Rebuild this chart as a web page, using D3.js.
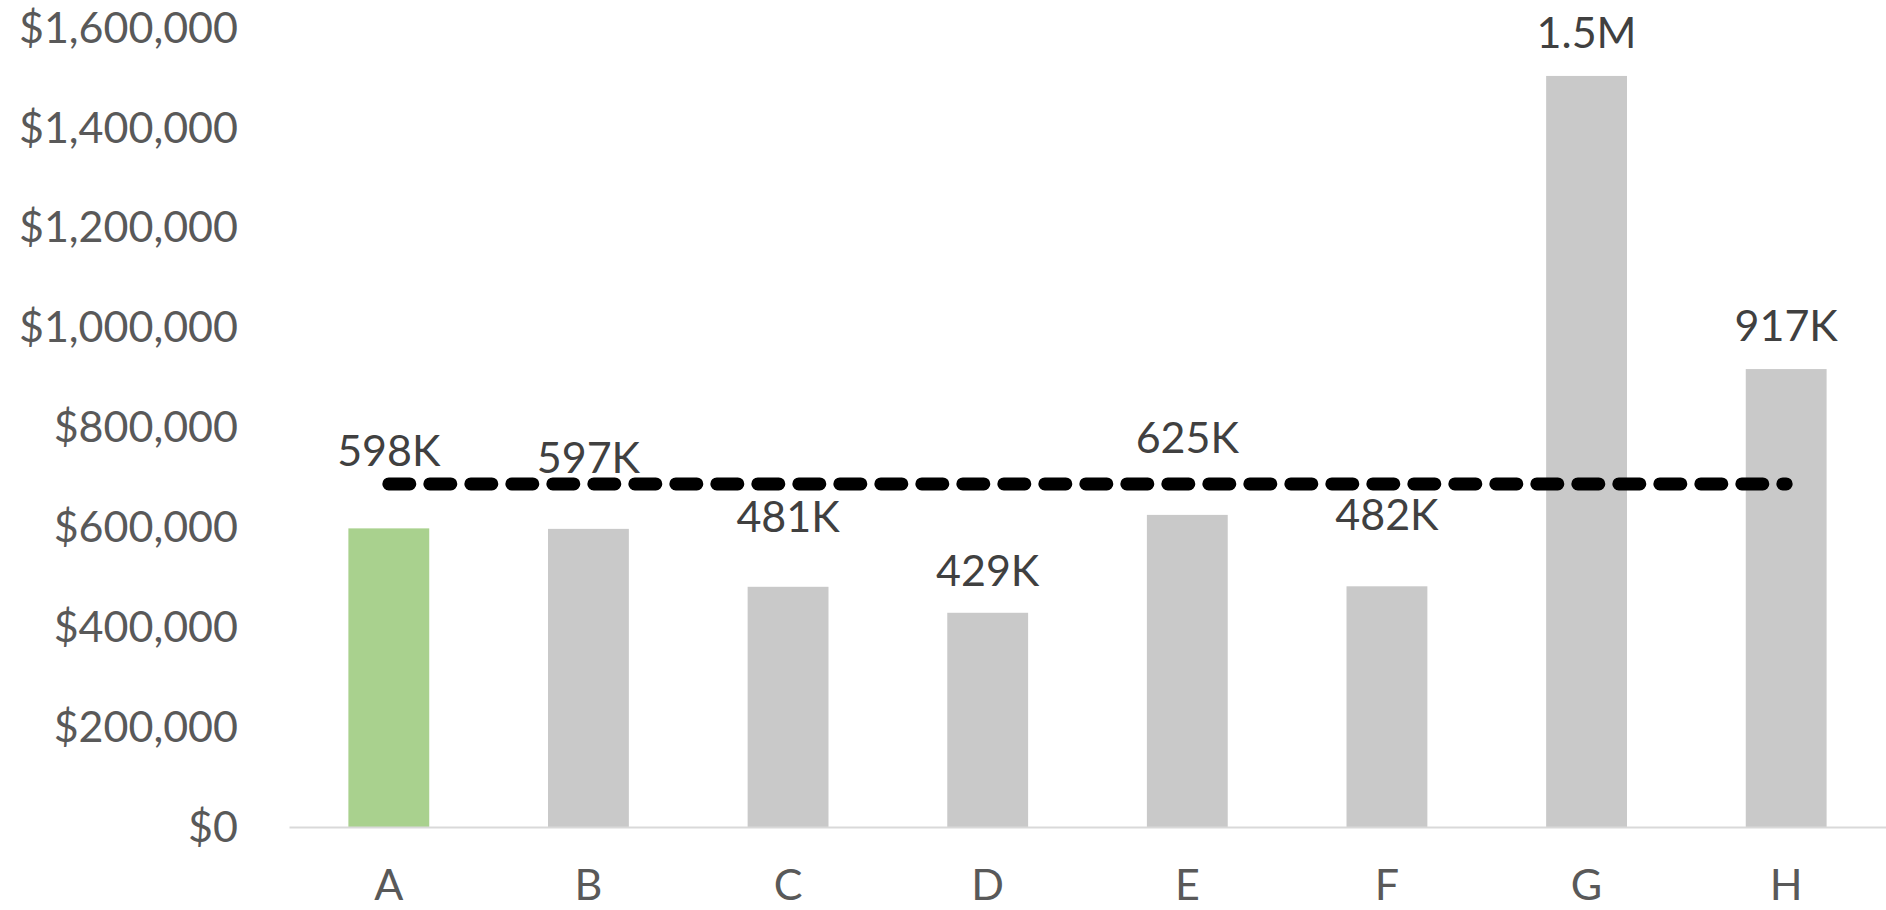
<!DOCTYPE html>
<html>
<head>
<meta charset="utf-8">
<script src="https://cdn.jsdelivr.net/npm/d3@7"></script>
<style>
  body { margin: 0; background: #fff; }
  svg { display: block; font-family: Lato, "Open Sans", sans-serif; }
</style>
</head>
<body>
<svg id="chart"></svg>
<script>
// chart data
const categories = ["A", "B", "C", "D", "E", "F", "G", "H"];
const revenue = [598000, 597000, 481000, 429000, 625000, 482000, 1504000, 917000];
const highlighted = ["A"];
const benchmark = 687000;
const yTicks = [0, 200000, 400000, 600000, 800000, 1000000, 1200000, 1400000, 1600000];
// how far above each bar its label sits (px), the labels were nudged by hand
const labelGap = [62, 56, 55, 27, 62, 56, 28, 28];

const W = 1886, H = 910;
const margin = { top: 28, right: 0, bottom: 83, left: 289 };

const svg = d3.select("#chart").attr("width", W).attr("height", H);

const x = d3.scaleBand()
  .domain(categories)
  .range([margin.left, W - margin.right])
  .paddingInner(0.595)
  .paddingOuter(0.2975);

const y = d3.scaleLinear()
  .domain([0, 1600000])
  .range([H - margin.bottom, margin.top]);

const money = d3.format("$,.0f");
const short = v => v >= 1e6 ? (v / 1e6).toFixed(1) + "M" : Math.round(v / 1e3) + "K";

// y axis labels (no line, no ticks)
const yAxis = svg.append("g")
  .attr("transform", `translate(${238},0)`)
  .call(d3.axisLeft(y).tickValues(yTicks).tickFormat(money).tickSize(0).tickPadding(0));
yAxis.select(".domain").remove();
yAxis.selectAll("text")
  .attr("font-size", 43)
  .attr("fill", "#595959")
  .attr("font-family", "Lato, 'Open Sans', sans-serif")
  .attr("dy", "0.33em");

// bars
svg.append("g").selectAll("rect")
  .data(categories)
  .join("rect")
  .attr("x", d => x(d))
  .attr("y", (d, i) => y(revenue[i]))
  .attr("width", x.bandwidth())
  .attr("height", (d, i) => y(0) - y(revenue[i]))
  .attr("fill", d => highlighted.includes(d) ? "#a9d18e" : "#c9c9c9");

// x axis line + labels
const xAxis = svg.append("g")
  .attr("transform", `translate(0,${y(0)})`)
  .call(d3.axisBottom(x).tickSize(0).tickPadding(42));
xAxis.select(".domain").attr("stroke", "#d9d9d9").attr("stroke-width", 2);
xAxis.selectAll("text")
  .attr("font-size", 43)
  .attr("fill", "#595959")
  .attr("font-family", "Lato, 'Open Sans', sans-serif");

// benchmark dashed line
const line = d3.line()
  .x(d => x(d) + x.bandwidth() / 2)
  .y(() => y(benchmark));
svg.append("path")
  .datum([categories[0], categories[categories.length - 1]])
  .attr("d", line)
  .attr("fill", "none")
  .attr("stroke", "#000")
  .attr("stroke-width", 13)
  .attr("stroke-linecap", "round")
  .attr("stroke-dasharray", "21,20");

// data labels
svg.append("g").selectAll("text")
  .data(categories)
  .join("text")
  .attr("x", d => x(d) + x.bandwidth() / 2)
  .attr("y", (d, i) => y(revenue[i]) - labelGap[i])
  .attr("text-anchor", "middle")
  .attr("font-size", 43)
  .attr("fill", "#404040")
  .text((d, i) => short(revenue[i]));
</script>
</body>
</html>
